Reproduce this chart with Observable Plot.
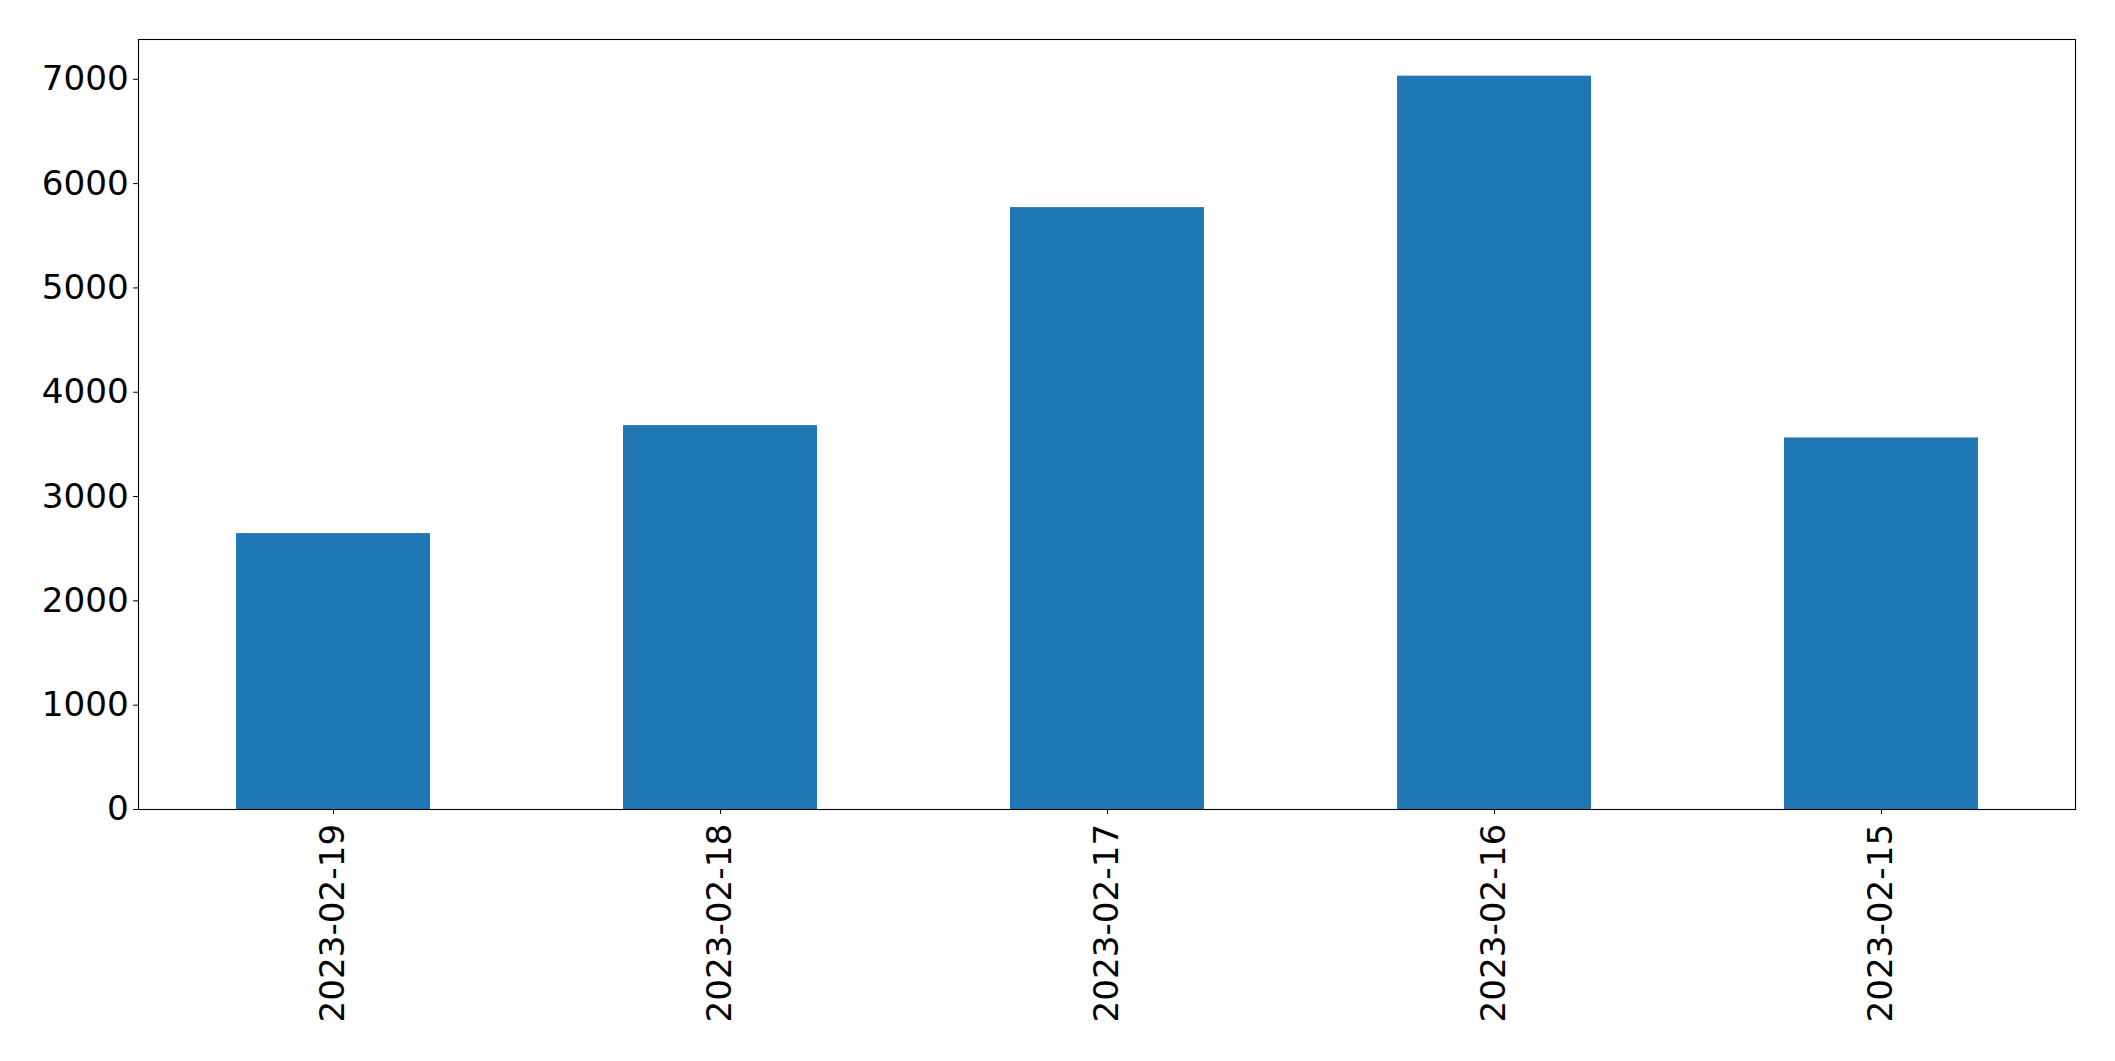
<!DOCTYPE html>
<html>
<head>
<meta charset="utf-8">
<script src="https://cdn.jsdelivr.net/npm/d3@7"></script>
<script src="https://cdn.jsdelivr.net/npm/@observablehq/plot@0.6"></script>
<style>
  html, body { margin: 0; padding: 0; background: #fff; }
  #chart svg { display: block; }
</style>
</head>
<body>
<div id="chart"></div>
<script>
const dates = ["2023-02-19", "2023-02-18", "2023-02-17", "2023-02-16", "2023-02-15"];
const counts = [2645, 3680, 5770, 7030, 3562];
const yTicks = [0, 1000, 2000, 3000, 4000, 5000, 6000, 7000];

const data = dates.map((d, i) => ({date: d, count: counts[i]}));
const fs = 34.2;
const tick = 4.86;

const chart = Plot.plot({
  width: 2115,
  height: 1061,
  marginLeft: 138,
  marginRight: 40,
  marginTop: 39,
  marginBottom: 252,
  style: {fontFamily: "DejaVu Sans", background: "#fff", color: "#000"},
  x: {type: "band", domain: dates, paddingInner: 0.5, paddingOuter: 0.25, align: 0.5},
  y: {domain: [0, d3.max(counts) * 1.05]},
  marks: [
    Plot.barY(data, {x: "date", y: "count", fill: "#1f77b4"}),
    Plot.axisY({ticks: yTicks, tickSize: tick, tickPadding: tick, fontSize: fs, tickFormat: d => String(d), label: null, stroke: "#000", fill: "#000"}),
    Plot.axisX({tickRotate: -90, tickSize: tick, tickPadding: 9.5, fontSize: fs, label: null, stroke: "#000", fill: "#000"}),
    Plot.frame({stroke: "#000", strokeWidth: 1.1})
  ]
});
document.getElementById("chart").appendChild(chart);
</script>
</body>
</html>
